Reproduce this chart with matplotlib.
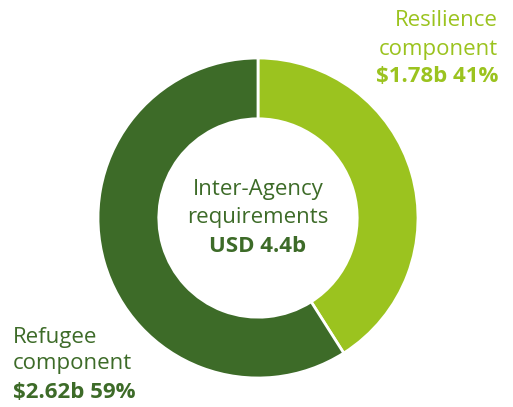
import matplotlib
matplotlib.use('Agg')
import matplotlib.pyplot as plt

plt.rcParams['font.family'] = ['Open Sans', 'DejaVu Sans']

labels = ['Resilience\ncomponent', 'Refugee\ncomponent']
amounts = ['$1.78b', '$2.62b']
shares = [41, 59]
colors = ['#9BC31F', '#3D6B28']
total_label = 'USD 4.4b'

W, H = 513, 407
fig = plt.figure(figsize=(W / 100, H / 100), dpi=100)

# donut: center (258, 218), outer radius ~160 px
cx, cy, r = 258, 218, 160
ax = fig.add_axes([(cx - r) / W, (H - cy - r) / H, 2 * r / W, 2 * r / H])
ax.pie(shares, colors=colors, startangle=90, counterclock=False, radius=1,
       wedgeprops=dict(width=0.38, edgecolor='white', linewidth=2))
ax.set_xlim(-1, 1)
ax.set_ylim(-1, 1)
ax.set_aspect('equal')
ax.axis('off')


def px(x, y):
    return x / W, 1 - y / H


fs = 16
# centre text
fig.text(*px(cx, 190), 'Inter-Agency', ha='center', va='center', fontsize=fs, color=colors[1])
fig.text(*px(cx, 218), 'requirements', ha='center', va='center', fontsize=fs, color=colors[1])
fig.text(*px(cx, 246), total_label, ha='center', va='center', fontsize=fs, color=colors[1], fontweight='bold')

# resilience label (top right)
l1, l2 = labels[0].split('\n')
fig.text(*px(498, 21), l1, ha='right', va='center', fontsize=fs, color=colors[0])
fig.text(*px(498, 49), l2, ha='right', va='center', fontsize=fs, color=colors[0])
fig.text(*px(498, 77), f'{amounts[0]} {shares[0]}%', ha='right', va='center', fontsize=fs,
         color=colors[0], fontweight='bold')

# refugee label (bottom left)
l1, l2 = labels[1].split('\n')
fig.text(*px(13, 337), l1, ha='left', va='center', fontsize=fs, color=colors[1])
fig.text(*px(13, 364), l2, ha='left', va='center', fontsize=fs, color=colors[1])
fig.text(*px(13, 392), f'{amounts[1]} {shares[1]}%', ha='left', va='center', fontsize=fs,
         color=colors[1], fontweight='bold')

fig.savefig('out.png', dpi=100)
